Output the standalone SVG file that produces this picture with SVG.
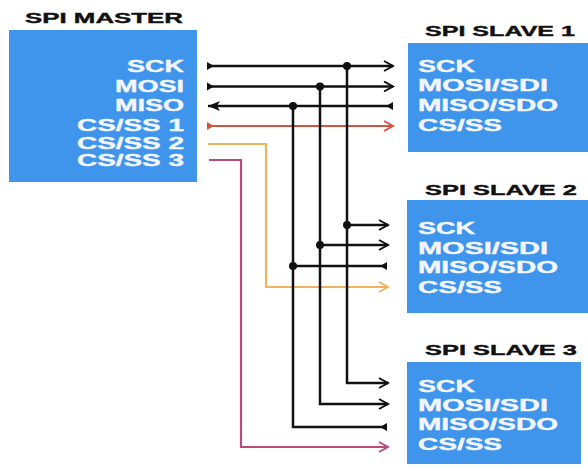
<svg xmlns="http://www.w3.org/2000/svg" width="588" height="471" viewBox="0 0 588 471">
<defs>
<style>
.box{fill:#3f94ec}
.title{font-family:"Liberation Sans",Arial,sans-serif;font-weight:bold;font-size:15.5px;fill:#111;stroke:#111;stroke-width:0.4}
.lbl{font-family:"Liberation Sans",Arial,sans-serif;font-weight:bold;font-size:16px;fill:#f2f6fb;stroke:#f2f6fb;stroke-width:0.4}
.w{fill:none;stroke:#111;stroke-width:2.5}
.red{fill:none;stroke:#d4553f;stroke-width:2}
.org{fill:none;stroke:#eeb35f;stroke-width:2.2}
.pur{fill:none;stroke:#b84a7c;stroke-width:2.2}
.dot{fill:#111}
</style>
<marker id="ab" viewBox="0 0 12 12" refX="10" refY="6" markerWidth="12" markerHeight="12" markerUnits="userSpaceOnUse" orient="auto">
<path d="M1,1 L10,6 L1,11" fill="none" stroke="#111" stroke-width="2"/>
</marker>
<marker id="ar" viewBox="0 0 12 12" refX="10" refY="6" markerWidth="12" markerHeight="12" markerUnits="userSpaceOnUse" orient="auto">
<path d="M1,1 L10,6 L1,11" fill="none" stroke="#d4553f" stroke-width="2"/>
</marker>
<marker id="ao" viewBox="0 0 12 12" refX="10" refY="6" markerWidth="12" markerHeight="12" markerUnits="userSpaceOnUse" orient="auto">
<path d="M1,1 L10,6 L1,11" fill="none" stroke="#eeb35f" stroke-width="2"/>
</marker>
<marker id="ap" viewBox="0 0 12 12" refX="10" refY="6" markerWidth="12" markerHeight="12" markerUnits="userSpaceOnUse" orient="auto">
<path d="M1,1 L10,6 L1,11" fill="none" stroke="#b84a7c" stroke-width="2"/>
</marker>
<marker id="af" viewBox="0 0 14 12" refX="13" refY="6" markerWidth="14" markerHeight="12" markerUnits="userSpaceOnUse" orient="auto">
<path d="M1,1 L13,6 L1,11 L4,6 z" fill="#111"/>
</marker>
<marker id="tb" viewBox="0 0 8 10" refX="1" refY="5" markerWidth="8" markerHeight="10" markerUnits="userSpaceOnUse" orient="auto">
<path d="M0,1 L7,5 L0,9 z" fill="#111"/>
</marker>
<marker id="tr" viewBox="0 0 8 10" refX="1" refY="5" markerWidth="8" markerHeight="10" markerUnits="userSpaceOnUse" orient="auto">
<path d="M0,1 L7,5 L0,9 z" fill="#d4553f"/>
</marker>
</defs>
<rect width="588" height="471" fill="#fff"/>

<g id="master">
<rect class="box" x="9" y="30" width="188" height="152"/>
<text class="title" x="25" y="23" textLength="158" lengthAdjust="spacingAndGlyphs">SPI MASTER</text>
<text class="lbl" x="127" y="72" textLength="57" lengthAdjust="spacingAndGlyphs">SCK</text>
<text class="lbl" x="115" y="92" textLength="69" lengthAdjust="spacingAndGlyphs">MOSI</text>
<text class="lbl" x="115" y="111" textLength="69" lengthAdjust="spacingAndGlyphs">MISO</text>
<text class="lbl" x="77" y="131" textLength="107" lengthAdjust="spacingAndGlyphs">CS/SS 1</text>
<text class="lbl" x="77" y="149" textLength="107" lengthAdjust="spacingAndGlyphs">CS/SS 2</text>
<text class="lbl" x="77" y="166" textLength="107" lengthAdjust="spacingAndGlyphs">CS/SS 3</text>
</g>

<g id="slave1">
<rect class="box" x="408" y="43" width="180" height="109"/>
<text class="title" x="425" y="36" textLength="150" lengthAdjust="spacingAndGlyphs">SPI SLAVE 1</text>
<text class="lbl" x="418" y="72" textLength="57" lengthAdjust="spacingAndGlyphs">SCK</text>
<text class="lbl" x="418" y="91" textLength="130" lengthAdjust="spacingAndGlyphs">MOSI/SDI</text>
<text class="lbl" x="418" y="111" textLength="140" lengthAdjust="spacingAndGlyphs">MISO/SDO</text>
<text class="lbl" x="418" y="131" textLength="84" lengthAdjust="spacingAndGlyphs">CS/SS</text>
</g>

<g id="slave2">
<rect class="box" x="407" y="200" width="181" height="113"/>
<text class="title" x="425" y="195" textLength="152" lengthAdjust="spacingAndGlyphs">SPI SLAVE 2</text>
<text class="lbl" x="418" y="234" textLength="57" lengthAdjust="spacingAndGlyphs">SCK</text>
<text class="lbl" x="418" y="254" textLength="130" lengthAdjust="spacingAndGlyphs">MOSI/SDI</text>
<text class="lbl" x="418" y="273" textLength="140" lengthAdjust="spacingAndGlyphs">MISO/SDO</text>
<text class="lbl" x="418" y="293" textLength="84" lengthAdjust="spacingAndGlyphs">CS/SS</text>
</g>

<g id="slave3">
<rect class="box" x="407" y="362" width="174" height="102"/>
<text class="title" x="425" y="355" textLength="152" lengthAdjust="spacingAndGlyphs">SPI SLAVE 3</text>
<text class="lbl" x="418" y="392" textLength="57" lengthAdjust="spacingAndGlyphs">SCK</text>
<text class="lbl" x="418" y="411" textLength="130" lengthAdjust="spacingAndGlyphs">MOSI/SDI</text>
<text class="lbl" x="418" y="430" textLength="140" lengthAdjust="spacingAndGlyphs">MISO/SDO</text>
<text class="lbl" x="418" y="450" textLength="84" lengthAdjust="spacingAndGlyphs">CS/SS</text>
</g>

<g id="connectors">
<path class="w" d="M208,66 H393" marker-start="url(#tb)" marker-end="url(#ab)"/>
<path class="w" d="M208,86.5 H393" marker-start="url(#tb)" marker-end="url(#ab)"/>
<path class="w" d="M392,106 H208" marker-start="url(#tb)" marker-end="url(#af)"/>
<path class="red" d="M208,126 H393" marker-start="url(#tr)" marker-end="url(#ar)"/>
<path class="org" d="M208,144 H266 V287 H388" marker-end="url(#ao)"/>
<path class="pur" d="M209,160 H241 V447 H388" marker-end="url(#ap)"/>
<path class="w" d="M347,66 V383 H388" marker-end="url(#ab)"/>
<path class="w" d="M347,225 H388" marker-end="url(#ab)"/>
<path class="w" d="M320,86.5 V404 H388" marker-end="url(#ab)"/>
<path class="w" d="M320,245 H388" marker-end="url(#ab)"/>
<path class="w" d="M386,427 H293 V106" marker-start="url(#tb)"/>
<path class="w" d="M386,266 H293" marker-start="url(#tb)"/>
<circle class="dot" cx="347" cy="66" r="4"/>
<circle class="dot" cx="320" cy="86.5" r="4"/>
<circle class="dot" cx="293" cy="106" r="4"/>
<circle class="dot" cx="347" cy="225" r="4"/>
<circle class="dot" cx="320" cy="245" r="4"/>
<circle class="dot" cx="293" cy="266" r="4"/>
</g>
</svg>
